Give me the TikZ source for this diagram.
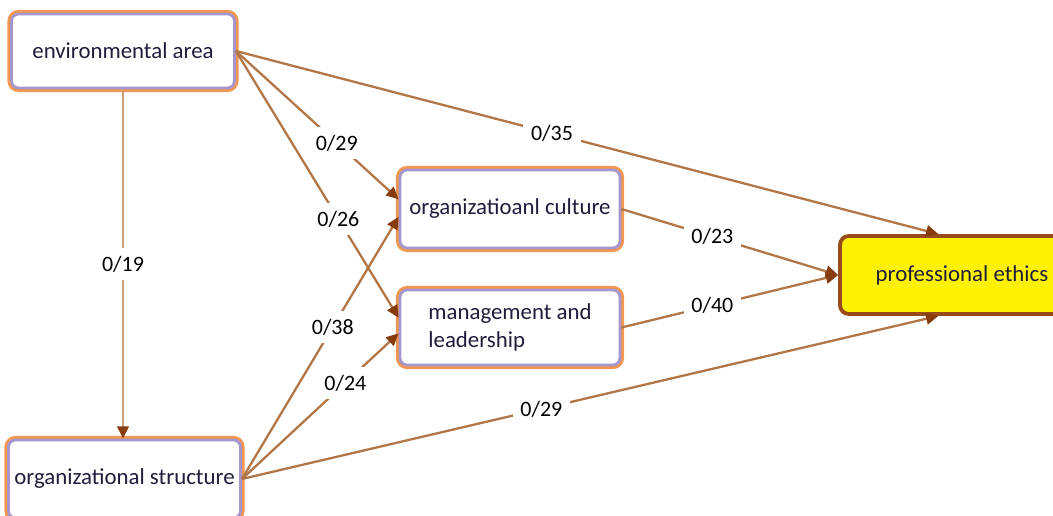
\documentclass[tikz,border=0pt]{standalone}
\usepackage{fontspec}
\setmainfont{Carlito}
\usetikzlibrary{arrows.meta}
\definecolor{boxorange}{RGB}{242,150,80}
\definecolor{boxlilac}{RGB}{165,150,205}
\definecolor{linkbrown}{RGB}{178,118,70}
\definecolor{linktan}{RGB}{205,160,120}
\definecolor{tipbrown}{RGB}{135,60,15}
\definecolor{ethicsrim}{RGB}{150,75,25}
\definecolor{inkblue}{RGB}{30,30,60}
\tikzset{factorbox/.style={draw=boxlilac, line width=1.6pt, preaction={draw=boxorange, line width=4.6pt}, rounded corners=4pt, fill=white, text=inkblue, align=left, font=\fontsize{13}{16}\selectfont}}
\tikzset{outcomebox/.style={draw=ethicsrim, line width=2.2pt, fill=yellow, rounded corners=5pt, text=inkblue, font=\fontsize{13}{16}\selectfont}}
\tikzset{semarrow/.style={-{Triangle[length=7pt, width=6.5pt, color=tipbrown]}, draw=linkbrown, line width=1.3pt}}
\tikzset{pathlbl/.style={fill=white, inner sep=4.5pt, font=\fontsize{12.5}{15}\selectfont}}

\begin{document}
\begin{tikzpicture}[x=0.02cm, y=-0.02cm]
\useasboundingbox (0,0) rectangle (1053,516);
\node[factorbox, minimum width=4.46cm, minimum height=1.48cm] (env) at (123,51) {environmental area};
\node[factorbox, minimum width=4.5cm, minimum height=1.56cm] (struct) at (124.5,479) {organizational structure};
\node[factorbox, minimum width=4.4cm, minimum height=1.56cm] (cult) at (510,209) {organizatioanl culture};
\node[factorbox, minimum width=4.4cm, minimum height=1.5cm] (mgmt) at (510,327.5) {management and\\leadership};
\node[outcomebox, minimum width=4.88cm, minimum height=1.56cm] (eth) at (962,275) {professional ethics};
\draw[semarrow, draw=linktan, line width=1.6pt] (env.south) -- node[pathlbl] {0/19} (env.south |- struct.north);
\draw[semarrow] (env.east) -- node[pathlbl, pos=0.45] {0/35} (eth.120);
\draw[semarrow] (env.east) -- node[pathlbl, pos=0.62] {0/29} (cult.175);
\draw[semarrow] (env.east) -- node[pathlbl, pos=0.63] {0/26} (mgmt.175);
\draw[semarrow] (struct.east) -- node[pathlbl, pos=0.58] {0/38} (cult.184);
\draw[semarrow] (struct.east) -- node[pathlbl, pos=0.66] {0/24} (mgmt.183);
\draw[semarrow] (struct.east) -- node[pathlbl, pos=0.43] {0/29} (eth.240);
\draw[semarrow] (cult.east) -- node[pathlbl, pos=0.42] {0/23} (eth.west);
\draw[semarrow] (mgmt.east) -- node[pathlbl, pos=0.42] {0/40} (eth.west);
\end{tikzpicture}
\end{document}
